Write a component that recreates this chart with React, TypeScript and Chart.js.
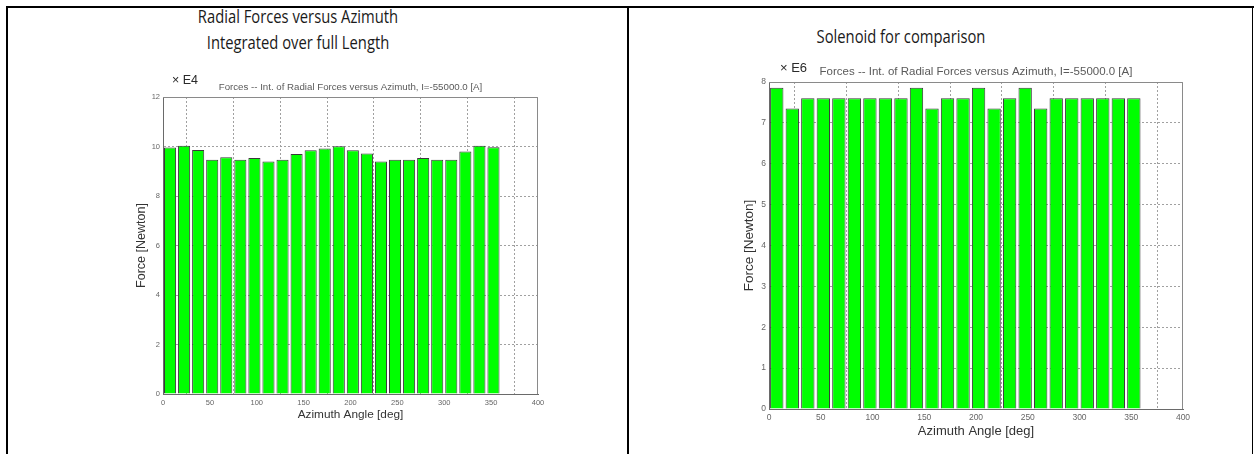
import { useEffect, useRef } from "react";
import { Chart, registerables } from "chart.js";

Chart.register(...registerables);

// Centre of each 15° azimuth sector
const AZIMUTH_DEG = [
  7.5, 22.5, 37.5, 52.5, 67.5, 82.5, 97.5, 112.5, 127.5, 142.5, 157.5, 172.5,
  187.5, 202.5, 217.5, 232.5, 247.5, 262.5, 277.5, 292.5, 307.5, 322.5, 337.5, 352.5,
];

// Radial force per sector, integrated over the full length (× 1E4 N)
const RADIAL_FORCE_E4 = [
  9.96, 10.03, 9.86, 9.46, 9.57, 9.46, 9.54, 9.39, 9.46, 9.7, 9.85, 9.92,
  10.01, 9.85, 9.72, 9.39, 9.46, 9.46, 9.54, 9.46, 9.46, 9.8, 10.03, 9.97,
];

// Solenoid radial force per sector (× 1E6 N)
const SOLENOID_FORCE_E6 = [
  7.86, 7.35, 7.6, 7.6, 7.6, 7.6, 7.6, 7.6, 7.6, 7.86, 7.35, 7.6,
  7.6, 7.86, 7.35, 7.6, 7.86, 7.35, 7.6, 7.6, 7.6, 7.6, 7.6, 7.6,
];

const X_TICKS = [0, 50, 100, 150, 200, 250, 300, 350, 400];
const Y_TICKS_E4 = [0, 2, 4, 6, 8, 10, 12];
const Y_TICKS_E6 = [0, 1, 2, 3, 4, 5, 6, 7, 8];

const CAPTION = "Forces -- Int. of Radial Forces versus Azimuth, I=-55000.0 [A]";
const X_TITLE = "Azimuth Angle [deg]";
const Y_TITLE = "Force [Newton]";

const PLOT_FONT = '"Liberation Sans", Arial, sans-serif';
const SLIDE_FONT = '"Open Sans", "Noto Sans", sans-serif';

// Draws the closed plot box plus the caption line and the exponent marker
const frameAndCaption = {
  id: "frameAndCaption",
  afterDraw(chart: any, _args: any, opts: any) {
    const { ctx, chartArea: a } = chart;
    ctx.save();
    ctx.strokeStyle = opts.frameColor;
    ctx.lineWidth = 1;
    const top = Math.round(a.top) + 0.5;
    const right = Math.round(a.right) - 0.5;
    ctx.beginPath();
    ctx.moveTo(a.left, top);
    ctx.lineTo(right, top);
    ctx.lineTo(right, a.bottom);
    ctx.stroke();

    ctx.textBaseline = "middle";
    ctx.fillStyle = opts.captionColor;
    ctx.font = `${opts.captionSize}px ${PLOT_FONT}`;
    ctx.textAlign = "center";
    ctx.fillText(opts.caption, (a.left + a.right) / 2, a.top + opts.captionDy);

    ctx.fillStyle = opts.exponentColor;
    ctx.font = `${opts.exponentSize}px ${PLOT_FONT}`;
    ctx.textAlign = "left";
    ctx.fillText(opts.exponent, a.left + opts.exponentDx, a.top + opts.exponentDy);
    ctx.restore();
  },
};

type PanelSpec = {
  left: number;
  top: number;
  width: number;
  height: number;
  values: number[];
  yTicks: number[];
  exponent: string;
  padRight: number;
  padTop: number;
  yAxisWidth: number;
  xAxisHeight: number;
  tickSize: number;
  xTitleSize: number;
  xTitlePad: number;
  yTitleSize: number;
  yTitlePad: number;
  captionSize: number;
  captionDy: number;
  exponentSize: number;
  exponentDx: number;
  exponentDy: number;
};

function ForcePanel(p: PanelSpec) {
  const ref = useRef<HTMLCanvasElement | null>(null);

  useEffect(() => {
    if (!ref.current) return;
    const yMax = p.yTicks[p.yTicks.length - 1];
    const chart = new Chart(ref.current, {
      type: "bar",
      data: {
        datasets: [
          {
            data: AZIMUTH_DEG.map((x, i) => ({ x, y: p.values[i] })),
            backgroundColor: "#00ff00",
            borderColor: "#3a3a3a",
            borderWidth: 1,
            barPercentage: 0.86,
            categoryPercentage: 1,
          },
        ],
      },
      options: {
        animation: false,
        responsive: false,
        events: [],
        layout: { padding: { left: 0, right: p.padRight, top: p.padTop, bottom: 0 } },
        plugins: {
          legend: { display: false },
          tooltip: { enabled: false },
          frameAndCaption: {
            frameColor: "#8a8a8a",
            caption: CAPTION,
            captionColor: "#5a5a5a",
            captionSize: p.captionSize,
            captionDy: p.captionDy,
            exponent: p.exponent,
            exponentColor: "#2a2a2a",
            exponentSize: p.exponentSize,
            exponentDx: p.exponentDx,
            exponentDy: p.exponentDy,
          },
        } as any,
        scales: {
          x: {
            type: "linear",
            min: 0,
            max: 400,
            offset: false,
            afterBuildTicks: (s: any) => {
              s.ticks = X_TICKS.map((value) => ({ value }));
            },
            afterFit: (s: any) => {
              s.height = p.xAxisHeight;
            },
            ticks: {
              padding: 4,
              color: "#666666",
              font: { family: PLOT_FONT, size: p.tickSize },
              maxRotation: 0,
            },
            grid: { color: "#a0a0a0", drawTicks: false, lineWidth: 1 },
            border: { color: "#6a6a6a", dash: [2, 2] },
            title: {
              display: true,
              text: X_TITLE,
              color: "#333333",
              font: { family: PLOT_FONT, size: p.xTitleSize },
              padding: { top: 0, bottom: p.xTitlePad },
            },
          },
          y: {
            min: 0,
            max: yMax,
            afterBuildTicks: (s: any) => {
              s.ticks = p.yTicks.map((value) => ({ value }));
            },
            afterFit: (s: any) => {
              s.width = p.yAxisWidth;
            },
            ticks: {
              padding: 3,
              color: "#666666",
              font: { family: PLOT_FONT, size: p.tickSize },
            },
            grid: { color: "#a0a0a0", drawTicks: false, lineWidth: 1 },
            border: { color: "#6a6a6a", dash: [2, 2] },
            title: {
              display: true,
              text: Y_TITLE,
              color: "#333333",
              font: { family: PLOT_FONT, size: p.yTitleSize },
              padding: { top: p.yTitlePad, bottom: 0 },
            },
          },
        },
      },
      plugins: [frameAndCaption],
    });
    return () => chart.destroy();
  }, []);

  return (
    <canvas
      ref={ref}
      width={p.width}
      height={p.height}
      style={{ position: "absolute", left: p.left, top: p.top, width: p.width, height: p.height }}
    />
  );
}

// Slide heading, condensed horizontally to a Calibri-like width
const titleStyle = (cx: number, cy: number, size: number): React.CSSProperties => ({
  position: "absolute",
  left: cx - 200,
  top: cy - size * 0.7,
  width: 400,
  textAlign: "center",
  fontFamily: SLIDE_FONT,
  fontSize: size,
  lineHeight: `${size * 1.4}px`,
  color: "#1a1a1a",
  whiteSpace: "nowrap",
  transform: "scaleX(0.82)",
  transformOrigin: "center center",
});

export default function App() {
  return (
    <div
      style={{
        position: "absolute",
        left: 0,
        top: 0,
        width: 1254,
        height: 454,
        background: "#ffffff",
        overflow: "hidden",
      }}
    >
      {/* slide table frame */}
      <div style={{ position: "absolute", left: 6, top: 6, width: 1248, height: 2, background: "#000" }} />
      <div style={{ position: "absolute", left: 6, top: 6, width: 2, height: 448, background: "#000" }} />
      <div style={{ position: "absolute", left: 627, top: 6, width: 2, height: 448, background: "#000" }} />
      <div style={{ position: "absolute", left: 1252, top: 6, width: 1, height: 448, background: "#000" }} />

      <div style={titleStyle(298, 17, 18)}>Radial Forces versus Azimuth</div>
      <div style={titleStyle(298, 43, 18)}>Integrated over full Length</div>
      <div style={titleStyle(901, 37, 18)}>Solenoid for comparison</div>

      <ForcePanel
        left={110}
        top={62}
        width={450}
        height={368}
        values={RADIAL_FORCE_E4}
        yTicks={Y_TICKS_E4}
        exponent="× E4"
        padRight={22}
        padTop={35}
        yAxisWidth={53}
        xAxisHeight={36}
        tickSize={7.5}
        xTitleSize={11.8}
        xTitlePad={8}
        yTitleSize={12.5}
        yTitlePad={24}
        captionSize={9.7}
        captionDy={-10}
        exponentSize={12.5}
        exponentDx={9}
        exponentDy={-16}
      />
      <ForcePanel
        left={720}
        top={55}
        width={480}
        height={390}
        values={SOLENOID_FORCE_E6}
        yTicks={Y_TICKS_E6}
        exponent="× E6"
        padRight={17}
        padTop={27}
        yAxisWidth={49}
        xAxisHeight={36}
        tickSize={8.5}
        xTitleSize={13}
        xTitlePad={6}
        yTitleSize={13.5}
        yTitlePad={21}
        captionSize={11.5}
        captionDy={-10}
        exponentSize={13}
        exponentDx={11}
        exponentDy={-14}
      />
    </div>
  );
}
